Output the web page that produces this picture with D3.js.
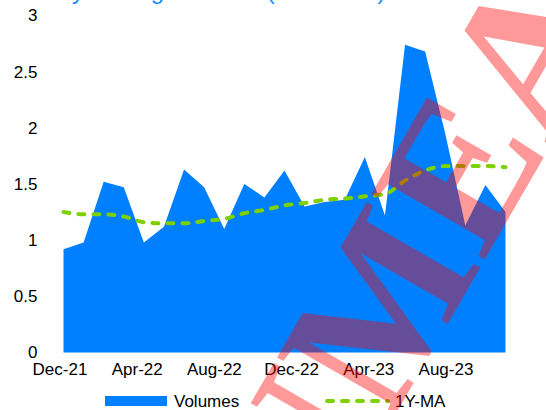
<!DOCTYPE html>
<html>
<head>
<meta charset="utf-8">
<script src="https://cdn.jsdelivr.net/npm/d3@7"></script>
<style>
  body { margin: 0; background: #fff; }
  svg { display: block; font-family: "Liberation Sans", Arial, sans-serif; }
</style>
</head>
<body>
<script>
// data
var months = ["Dec-21","Jan-22","Feb-22","Mar-22","Apr-22","May-22","Jun-22","Jul-22","Aug-22","Sep-22","Oct-22","Nov-22",
  "Dec-22","Jan-23","Feb-23","Mar-23","Apr-23","May-23","Jun-23","Jul-23","Aug-23","Sep-23","Oct-23"];
var volumes = [0.92, 0.98, 1.52, 1.47, 0.98, 1.12, 1.63, 1.47, 1.10, 1.50, 1.38, 1.62,
  1.30, 1.34, 1.36, 1.74, 1.22, 2.74, 2.68, 1.95, 1.13, 1.49, 1.25];
var movingAvg = [1.25, 1.23, 1.23, 1.21, 1.16, 1.15, 1.15, 1.17, 1.19, 1.24, 1.27, 1.31,
  1.33, 1.36, 1.37, 1.39, 1.41, 1.53, 1.62, 1.66, 1.66, 1.66, 1.65];
var xTickLabels = ["Dec-21","Apr-22","Aug-22","Dec-22","Apr-23","Aug-23"];
var yTicks = [0, 0.5, 1, 1.5, 2, 2.5, 3];

var width = 546, height = 410;

var svg = d3.select("body").append("svg")
  .attr("width", width)
  .attr("height", height);

var x = d3.scalePoint()
  .domain(months)
  .range([63.5, 505.5]);

// category labels sit on their own spacing
var xLabel = d3.scalePoint()
  .domain(xTickLabels)
  .range([60, 446]);

var y = d3.scaleLinear()
  .domain([0, 3])
  .range([352.5, 15.5]);

//title, cut off at the top edge in the original too
svg.append("text")
  .attr("x", 0)
  .attr("y", -1)
  .attr("fill", "#1a8cff")
  .style("font-size", "24px")
  .text("Monthly trading volumes (in USD tn)");

//y labels
svg.append("g").selectAll("text")
  .data(yTicks)
  .enter().append("text")
  .attr("x", 37.5)
  .attr("y", d => y(d))
  .attr("dy", "0.35em")
  .attr("text-anchor", "end")
  .attr("fill", "#000")
  .style("font-size", "17px")
  .text(d => d);

//x labels
svg.append("g").selectAll("text")
  .data(xTickLabels)
  .enter().append("text")
  .attr("x", d => xLabel(d))
  .attr("y", 375)
  .attr("text-anchor", "middle")
  .attr("fill", "#000")
  .style("font-size", "17px")
  .text(d => d);

var area = d3.area()
  .x((d, i) => x(months[i]))
  .y0(y(0))
  .y1(d => y(d));

svg.append("path")
  .datum(volumes)
  .attr("fill", "#0080ff")
  .attr("d", area);

var maLine = d3.line()
  .x((d, i) => x(months[i]))
  .y(d => y(d))
  .curve(d3.curveMonotoneX);

svg.append("path")
  .datum(movingAvg)
  .attr("fill", "none")
  .attr("stroke", "#7dd100")
  .attr("stroke-width", 4)
  .attr("stroke-linecap", "round")
  .attr("stroke-dasharray", "6,9")
  .attr("d", maLine);

//legend
var legend = svg.append("g");
legend.append("rect")
  .attr("x", 105).attr("y", 396)
  .attr("width", 62).attr("height", 10)
  .attr("fill", "#0080ff");
legend.append("text")
  .attr("x", 174).attr("y", 407)
  .style("font-size", "17px")
  .text("Volumes");
legend.append("line")
  .attr("x1", 327).attr("x2", 388)
  .attr("y1", 401).attr("y2", 401)
  .attr("stroke", "#7dd100")
  .attr("stroke-width", 4)
  .attr("stroke-linecap", "round")
  .attr("stroke-dasharray", "6,9");
legend.append("text")
  .attr("x", 395).attr("y", 407)
  .style("font-size", "17px")
  .text("1Y-MA");

//watermark on top
svg.append("text")
  .attr("transform", "translate(622,22) rotate(-60)")
  .attr("text-anchor", "end")
  .attr("fill", "#ff0000")
  .attr("fill-opacity", 0.4)
  .style("font-family", "'Liberation Serif', serif")
  .style("font-weight", "bold")
  .style("font-size", "200px")
  .text("NMEA");
</script>
</body>
</html>
